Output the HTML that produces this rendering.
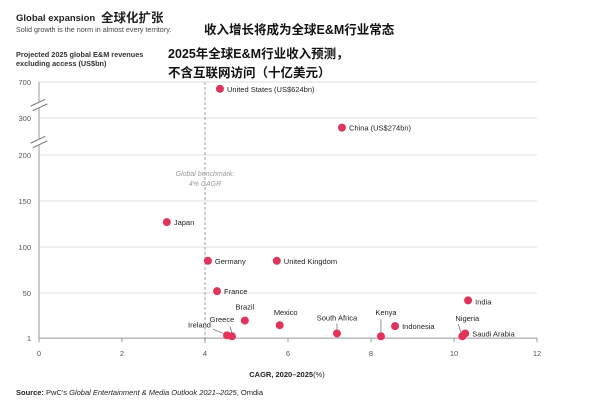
<!DOCTYPE html>
<html><head><meta charset="utf-8"><style>
body{margin:0;width:600px;height:407px;background:#fff;overflow:hidden;font-family:"Liberation Sans","Noto Sans CJK SC",sans-serif;}
svg{display:block}
</style></head><body>
<svg id="chart" width="600" height="407" xmlns="http://www.w3.org/2000/svg" font-family="Liberation Sans, Noto Sans CJK SC, sans-serif">
<text x="16" y="21" font-size="9.5" font-weight="bold" fill="#222">Global expansion</text>
<text x="101" y="22" font-size="12.5" font-weight="bold" fill="#222">全球化扩张</text>
<text x="16" y="32" font-size="7.2" fill="#444">Solid growth is the norm in almost every territory.</text>
<text x="204" y="34" font-size="12.5" font-weight="bold" fill="#111">收入增长将成为全球E&amp;M行业常态</text>
<text x="16" y="57" font-size="7.3" font-weight="bold" fill="#333">Projected 2025 global E&amp;M revenues</text>
<text x="16" y="66" font-size="7.3" font-weight="bold" fill="#333">excluding access (US$bn)</text>
<text x="168" y="58" font-size="12.5" font-weight="bold" fill="#111">2025年全球E&amp;M行业收入预测，</text>
<text x="168" y="77" font-size="12.5" font-weight="bold" fill="#111">不含互联网访问（十亿美元）</text>
<g id="plot"></g>
<text x="287" y="377" font-size="7.5" font-weight="bold" fill="#222" text-anchor="middle">CAGR, 2020–2025<tspan font-weight="normal">(%)</tspan></text>
<text x="16" y="395" font-size="7.5" fill="#222"><tspan font-weight="bold">Source:</tspan> PwC's <tspan font-style="italic">Global Entertainment &amp; Media Outlook 2021–2025</tspan>, Omdia</text>
</svg>
<script>
const countries=["United States (US$624bn)","China (US$274bn)","Japan","Germany","United Kingdom","France","India","Brazil","Mexico","South Africa","Kenya","Indonesia","Greece","Ireland","Nigeria","Saudi Arabia"];
const cagr=[4.36,7.3,3.08,4.07,5.73,4.29,10.34,4.96,5.8,7.18,8.24,8.58,4.65,4.53,10.2,10.27];
const revenue=[624,274,127,85,85,52,42,20,15,6,3,14,3,4,3,6];
const xTicks=[0,2,4,6,8,10,12];
const yTicks=[1,50,100,150,200,300,700];
const benchmark=4;
const NS="http://www.w3.org/2000/svg";
const X0=39,X1=537;
function xs(v){return X0+(v-0)/12*(X1-X0);}
function ys(v){
  if(v<=150) return 339-v*(339-201)/150;
  if(v<=200) return 201+(v-150)*(155-201)/50;
  if(v<=300) return 155+(v-200)*(118-155)/100;
  return 118+(v-300)*(82-118)/400;
}
const g=document.getElementById('plot');
function mk(t,a){const e=document.createElementNS(NS,t);for(const k in a)e.setAttribute(k,a[k]);g.appendChild(e);return e;}
yTicks.forEach(v=>{
  const y=ys(v);
  if(v!==1){const l=mk('line',{x1:X0,x2:X1,y1:y,y2:y,stroke:'#ddd','stroke-width':1});
  
  }
  const t=mk('text',{x:X0-8,y:y+3,'font-size':7.5,fill:'#555','text-anchor':'end'});t.textContent=v;
  
  
});
const ax=mk('line',{x1:X0,x2:X1,y1:ys(1),y2:ys(1),stroke:'#999','stroke-width':1});


const ay=mk('line',{x1:X0,x2:X0,y1:ys(700),y2:ys(1),stroke:'#999','stroke-width':1});


[105,142].forEach((y,i)=>{
  const r=mk('rect',{x:X0-8,y:y-3,width:16,height:6,fill:'#fff',transform:`rotate(-25 ${X0} ${y})`});
  
  
  [-2.5,2.5].forEach(d=>{const l=mk('line',{x1:X0-8,x2:X0+8,y1:y+d,y2:y+d,stroke:'#777','stroke-width':1,transform:`rotate(-25 ${X0} ${y})`});
  
  });
});
xTicks.forEach(v=>{
  const x=xs(v);
  const tk=mk('line',{x1:x,x2:x,y1:ys(1),y2:ys(1)+4,stroke:'#999'});
  
  
  const t=mk('text',{x:x,y:356,'font-size':7.5,fill:'#555','text-anchor':'middle'});t.textContent=v;
  
  
});
const bl=mk('line',{x1:xs(benchmark),x2:xs(benchmark),y1:ys(700),y2:ys(1)+5,stroke:'#888','stroke-dasharray':'3,2','stroke-width':0.8});


const b1=mk('text',{x:xs(benchmark),y:176,'font-size':7,fill:'#999','font-style':'italic','text-anchor':'middle'});b1.textContent='Global benchmark:';


const b2=mk('text',{x:xs(benchmark),y:186,'font-size':7,fill:'#999','font-style':'italic','text-anchor':'middle'});b2.textContent='4% CAGR';


const lab={"Greece":[-10,-14,'middle',[0,-3,-2,-10]],"Ireland":[-16,-8,'end',[-4,-2,-14,-6]],"Brazil":[0,-11,'middle'],"Mexico":[6,-10,'middle'],"South Africa":[0,-13,'middle',[0,-4,0,-10]],"Kenya":[5,-21,'middle',[0,-4,0,-17]],"Nigeria":[5,-15,'middle',[-1,-3,-4,-12]]};
countries.forEach((c,i)=>{
  const x=xs(cagr[i]),y=ys(revenue[i]);
  const d=mk('circle',{cx:x,cy:y,r:4,fill:'#e0345a'});
  
  
  const L=lab[c];
  let t;
  if(L){
    t=mk('text',{x:x+L[0],y:y+L[1],'font-size':7.5,fill:'#222','text-anchor':L[2]});
    if(L[3]){const ll=mk('line',{x1:x+L[3][0],y1:y+L[3][1],x2:x+L[3][2],y2:y+L[3][3],stroke:'#666','stroke-width':0.7});
    
    }
  } else {
    t=mk('text',{x:x+7,y:y+(c==='India'?4:3),'font-size':7.5,fill:'#222'});
  }
  t.textContent=c;
  
  
});
</script>
</body></html>
